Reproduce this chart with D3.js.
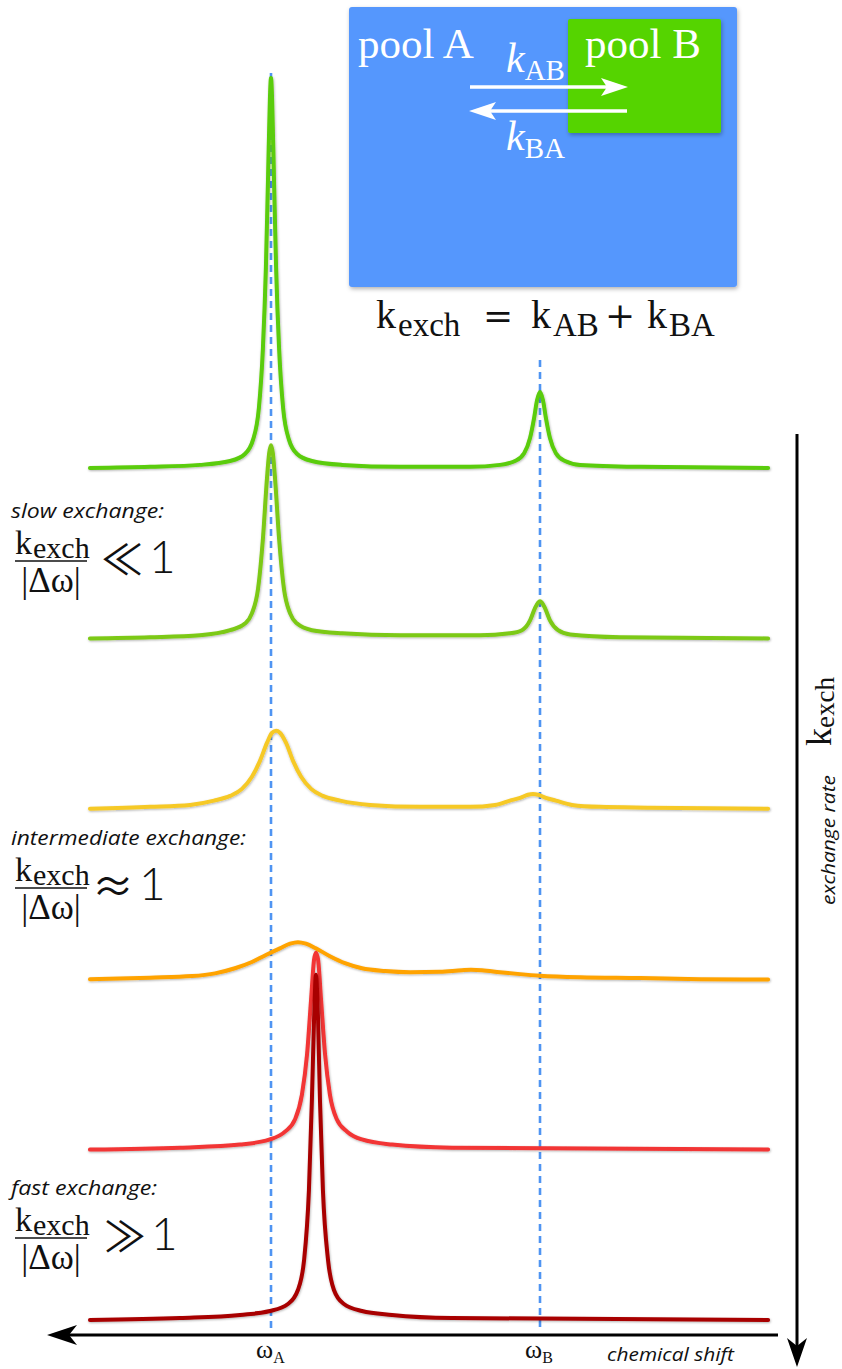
<!DOCTYPE html>
<html>
<head>
<meta charset="utf-8">
<script src="https://cdn.jsdelivr.net/npm/d3@7"></script>
<style>
  body { margin: 0; background: #fff; }
  svg { display: block; }
  .serif { font-family: "Liberation Serif", "DejaVu Serif", serif; }
  .note { font-family: "Open Sans", "DejaVu Sans", sans-serif; font-style: italic; }
</style>
</head>
<body>
<div class="container"></div>
<script>
const width = 842,
    height = 1369;

// chemical shift in units where omega_A = 0 and omega_B = 100,
// intensity in % of the tallest line
const shiftA = 0,
    shiftB = 100;

const traceIds = ["slowest", "slow", "slowInter", "inter", "fast", "fastest"];

const traceSlowest = [
  [-67.3, 0], [-45.0, 0.3], [-26.4, 0.8], [-15.2, 1.8], [-9.7, 3.6], [-6.7, 7.2],
  [-4.5, 15.4], [-3.0, 30.8], [-1.9, 51.3], [-1.1, 74.4], [-0.4, 94.9], [0, 100],
  [0.4, 94.9], [1.1, 74.4], [1.9, 51.3], [3.0, 30.8], [4.5, 15.4], [6.7, 7.2],
  [9.7, 3.6], [15.2, 1.8], [26.4, 0.8], [48.0, 0.3], [74.0, 0.3], [85.1, 0.8],
  [90.7, 1.8], [94.1, 3.8], [96.3, 7.7], [97.8, 12.8], [98.9, 17.4], [100, 19.5],
  [101.1, 17.4], [102.2, 12.8], [103.7, 7.7], [105.9, 3.8], [109.3, 1.8],
  [114.9, 0.8], [137.2, 0.3], [184.8, 0]
];

const traceSlow = [
  [-67.3, 0], [-45.0, 0.3], [-26.4, 0.8], [-15.2, 2.1], [-9.7, 3.8], [-7.1, 6.4],
  [-4.8, 12.8], [-3.0, 25.6], [-1.5, 41.0], [-0.7, 47.4], [0, 49.5], [0.7, 47.4],
  [1.5, 41.0], [3.0, 25.6], [4.8, 12.8], [7.1, 6.4], [9.7, 3.8], [15.2, 2.1],
  [26.4, 1.3], [48.0, 0.8], [77.7, 0.8], [88.8, 1.3], [93.3, 2.1], [96.3, 4.6],
  [98.1, 7.7], [99.3, 9.2], [100, 9.5], [100.7, 9.2], [101.9, 7.7], [103.7, 4.6],
  [106.7, 2.1], [111.2, 1.0], [129.7, 0.3], [184.8, 0]
];

const traceSlowInter = [
  [-67.3, 0], [-45.0, 0.5], [-30.1, 1.0], [-21.2, 2.1], [-15.2, 3.3], [-10.8, 5.1],
  [-7.1, 8.2], [-4.1, 12.3], [-1.5, 16.9], [0.4, 19.5], [1.9, 20.0], [3.3, 19.5],
  [5.6, 16.9], [8.2, 12.3], [11.2, 8.2], [14.9, 5.1], [19.3, 3.3], [25.7, 2.1],
  [36.8, 1.0], [55.4, 0.5], [74.0, 0.5], [83.3, 1.0], [88.8, 2.1], [92.6, 2.8],
  [95.5, 3.6], [97.4, 3.8], [99.3, 3.6], [102.2, 2.8], [105.9, 2.1], [111.9, 1.0],
  [122.3, 0.5], [140.9, 0.3], [184.8, 0]
];

const traceInter = [
  [-67.3, 0], [-45.0, 0.4], [-29.4, 0.8], [-20.8, 1.5], [-13.4, 2.8], [-7.1, 4.4],
  [-1.9, 6.2], [3.3, 7.9], [7.1, 9.1], [10.0, 9.5], [13.0, 9.1], [16.7, 7.9],
  [21.9, 5.9], [27.5, 4.1], [33.8, 2.8], [42.4, 2.1], [51.7, 1.8], [62.8, 1.9],
  [71.0, 2.3], [74.3, 2.4], [78.4, 2.3], [85.1, 1.8], [92.6, 1.3], [100, 0.9],
  [114.9, 0.5], [137.2, 0.3], [159.5, 0], [184.8, -0.1]
];

const traceFast = [
  [-67.3, 0], [-33.8, 0.5], [-11.5, 1.3], [-0.4, 2.6], [5.2, 4.6], [8.9, 7.7],
  [11.5, 14.1], [13.4, 24.4], [14.9, 38.5], [16.0, 48.7], [16.7, 50.5], [17.5, 48.7],
  [18.6, 38.5], [20.1, 24.4], [21.9, 14.1], [24.5, 7.7], [28.3, 4.6], [33.8, 2.6],
  [45.0, 1.3], [67.3, 0.5], [184.8, 0]
];

const traceFastest = [
  [-67.3, 0], [-33.8, 0.5], [-11.5, 1.3], [-0.4, 2.3], [6.3, 4.1], [10.0, 7.7],
  [12.3, 15.4], [14.1, 33.3], [15.2, 56.4], [16.0, 76.9], [16.7, 88.5], [17.5, 76.9],
  [18.2, 56.4], [19.3, 33.3], [21.2, 15.4], [23.4, 7.7], [27.1, 4.1], [33.8, 2.3],
  [45.0, 1.3], [67.3, 0.5], [184.8, 0]
];

const traces = [traceSlowest, traceSlow, traceSlowInter, traceInter, traceFast, traceFastest];

const regimeLabels = ["slow exchange:", "intermediate exchange:", "fast exchange:"];
const regimeRelations = ["\u226A", "\u2248", "\u226B"];

const traceColors = ["#5acc08", "#7cc914", "#f6c928", "#ffa300", "#f23434", "#a80000"];
const guideColor = "#4f94f2";

let svg;

const createCanvas = () => {
  return d3.select(".container")
    .append("svg")
    .attr("width", width)
    .attr("height", height);
};

const createFilters = () => {
  const defs = svg.append("defs");
  defs.append("filter")
      .attr("id", "lineShadow")
      .attr("x", "-5%").attr("y", "-5%").attr("width", "110%").attr("height", "120%")
    .append("feDropShadow")
      .attr("dx", 0.6).attr("dy", 1).attr("stdDeviation", 0.8)
      .attr("flood-color", "#000").attr("flood-opacity", 0.3);
  defs.append("filter")
      .attr("id", "boxShadow")
      .attr("x", "-5%").attr("y", "-5%").attr("width", "110%").attr("height", "115%")
    .append("feDropShadow")
      .attr("dx", 1).attr("dy", 2).attr("stdDeviation", 2)
      .attr("flood-color", "#000").attr("flood-opacity", 0.3);
};

const defineScales = () => {
  const xScale = d3.scaleLinear()
                   .domain([shiftA, shiftB])
                   .range([271, 540]);
  // intensity -> upward offset from each trace's baseline
  const yScale = d3.scaleLinear()
                   .domain([0, 100])
                   .range([0, -390]);
  const offset = d3.scalePoint()
                   .domain(traceIds)
                   .range([468, 1320]);
  return { xScale, yScale, offset };
};

const createPoolBox = () => {
  const g = svg.append("g");
  g.append("rect")
   .attr("x", 349).attr("y", 7).attr("width", 388).attr("height", 280)
   .attr("rx", 3).attr("fill", "#5597fd")
   .attr("filter", "url(#boxShadow)");
  g.append("rect")
   .attr("x", 568).attr("y", 19).attr("width", 153).attr("height", 114)
   .attr("rx", 2).attr("fill", "#55d400")
   .attr("filter", "url(#boxShadow)");

  g.append("text").attr("class", "serif")
   .attr("x", 358).attr("y", 58).attr("fill", "#fff").attr("font-size", 43)
   .text("pool A");
  g.append("text").attr("class", "serif")
   .attr("x", 585).attr("y", 58).attr("fill", "#fff").attr("font-size", 43)
   .text("pool B");

  const rate = (y, sub) => {
    const t = g.append("text").attr("class", "serif").attr("fill", "#fff")
               .attr("x", 506).attr("y", y);
    t.append("tspan").attr("font-size", 42).attr("font-style", "italic").text("k");
    t.append("tspan").attr("font-size", 29).attr("dy", 8).text(sub);
  };
  rate(72, "AB");
  rate(150, "BA");

  // exchange arrows
  g.append("line").attr("x1", 470).attr("x2", 612).attr("y1", 87).attr("y2", 87)
   .attr("stroke", "#fff").attr("stroke-width", 3.5);
  g.append("path").attr("d", "M628,87 L601,78 L607,87 L601,96 Z").attr("fill", "#fff");
  g.append("line").attr("x1", 485).attr("x2", 627).attr("y1", 111).attr("y2", 111)
   .attr("stroke", "#fff").attr("stroke-width", 3.5);
  g.append("path").attr("d", "M469,111 L496,102 L490,111 L496,120 Z").attr("fill", "#fff");

  // k_exch = k_AB + k_BA
  const f = svg.append("text").attr("class", "serif").attr("y", 328).attr("fill", "#111");
  f.append("tspan").attr("x", 376).attr("font-size", 40).text("k");
  f.append("tspan").attr("x", 398).attr("dy", 8).attr("font-size", 33).text("exch");
  f.append("tspan").attr("x", 483).attr("dy", -8).attr("font-size", 36)
   .style("font-family", "'DejaVu Serif', serif").text("=");
  f.append("tspan").attr("x", 531).attr("font-size", 40).text("k");
  f.append("tspan").attr("x", 553).attr("dy", 8).attr("font-size", 33).text("AB");
  f.append("tspan").attr("x", 605).attr("dy", -8).attr("font-size", 36)
   .style("font-family", "'DejaVu Serif', serif").text("+");
  f.append("tspan").attr("x", 647).attr("font-size", 40).text("k");
  f.append("tspan").attr("x", 669).attr("dy", 8).attr("font-size", 33).text("BA");
};

const createGuides = (scales) => {
  const tops = [73, 360];
  svg.selectAll(".guide")
     .data([shiftA, shiftB])
     .enter()
     .append("line")
     .attr("class", "guide")
     .attr("x1", d => scales.xScale(d))
     .attr("x2", d => scales.xScale(d))
     .attr("y1", (d, i) => tops[i])
     .attr("y2", 1330)
     .attr("stroke", guideColor)
     .attr("stroke-width", 2.6)
     .attr("stroke-dasharray", "7,5");
};

const createTraces = (scales) => {
  const line = d3.line()
                 .x(d => scales.xScale(d[0]))
                 .y(d => scales.yScale(d[1]))
                 .curve(d3.curveMonotoneX);

  svg.selectAll(".trace")
     .data(traces)
     .enter()
     .append("path")
     .attr("class", "trace")
     .attr("transform", (d, i) => `translate(0, ${scales.offset(traceIds[i])})`)
     .attr("d", line)
     .attr("fill", "none")
     .attr("stroke", (d, i) => traceColors[i])
     .attr("stroke-width", 4)
     .attr("stroke-linejoin", "round")
     .attr("stroke-linecap", "round")
     .attr("filter", "url(#lineShadow)");
};

const createRegimes = () => {
  const tops = [518, 845, 1195];
  const labelLengths = [153, 235, 146];
  const relX = [101, 92, 104];
  const oneX = [149, 139, 151];
  regimeLabels.forEach((label, i) => {
    const y = tops[i];
    const g = svg.append("g");
    g.append("text").attr("class", "note")
     .attr("x", 11).attr("y", y).attr("font-size", 20).attr("fill", "#111")
     .attr("textLength", labelLengths[i]).attr("lengthAdjust", "spacingAndGlyphs")
     .text(label);

    const bar = y + 43;
    const num = g.append("text").attr("class", "serif").attr("y", bar - 7).attr("fill", "#111");
    num.append("tspan").attr("x", 15).attr("font-size", 34).text("k");
    num.append("tspan").attr("x", 33).attr("dy", 4).attr("font-size", 30).text("exch");
    g.append("line").attr("x1", 15).attr("x2", 87).attr("y1", bar).attr("y2", bar)
     .attr("stroke", "#111").attr("stroke-width", 1.6);
    g.append("text").attr("class", "serif")
     .attr("x", 51).attr("y", bar + 31).attr("text-anchor", "middle")
     .attr("font-size", 35).attr("fill", "#111")
     .text("|\u0394\u03C9|");

    const rel = g.append("text").attr("y", bar + 14).attr("fill", "#111");
    rel.append("tspan").attr("x", relX[i])
       .style("font-family", "'Noto Sans CJK JP', 'DejaVu Sans', sans-serif")
       .attr("font-size", 42)
       .text(regimeRelations[i]);
    rel.append("tspan").attr("x", oneX[i]).attr("dy", -2)
       .style("font-family", "Lato, 'Noto Sans', sans-serif").style("font-weight", 300)
       .attr("font-size", 46)
       .text("1");
  });
};

const createAxes = (scales) => {
  // chemical shift axis, pointing left
  svg.append("line").attr("x1", 66).attr("x2", 778).attr("y1", 1335).attr("y2", 1335)
     .attr("stroke", "#000").attr("stroke-width", 3);
  svg.append("path").attr("d", "M47,1335 L77,1325 L69,1335 L77,1345 Z").attr("fill", "#000");

  const labels = svg.selectAll(".omega")
     .data([["A", shiftA], ["B", shiftB]])
     .enter()
     .append("text")
     .attr("class", "serif omega")
     .attr("x", d => scales.xScale(d[1]) - 15)
     .attr("y", 1358)
     .attr("fill", "#111")
     .attr("font-size", 26);
  labels.append("tspan").text("\u03C9");
  labels.append("tspan").attr("dy", 5).attr("font-size", 16).text(d => d[0]);

  svg.append("text").attr("class", "note")
     .attr("x", 607).attr("y", 1361).attr("font-size", 18).attr("fill", "#111")
     .attr("textLength", 127).attr("lengthAdjust", "spacingAndGlyphs")
     .text("chemical shift");

  // exchange rate axis, pointing down
  svg.append("line").attr("x1", 797).attr("x2", 797).attr("y1", 434).attr("y2", 1350)
     .attr("stroke", "#000").attr("stroke-width", 3);
  svg.append("path").attr("d", "M797,1367 L787,1338 L797,1346 L807,1338 Z").attr("fill", "#000");

  const k = svg.append("text").attr("class", "serif")
     .attr("transform", "translate(831, 746) rotate(-90)").attr("fill", "#111");
  k.append("tspan").attr("font-size", 36).text("k");
  k.append("tspan").attr("dy", 3).attr("font-size", 27).text("exch");

  svg.append("text").attr("class", "note")
     .attr("transform", "translate(835, 840) rotate(-90)")
     .attr("text-anchor", "middle").attr("font-size", 18).attr("fill", "#111")
     .attr("textLength", 130).attr("lengthAdjust", "spacingAndGlyphs")
     .text("exchange rate");
};

const drawExchangeChart = () => {
  svg = createCanvas();
  createFilters();
  const scales = defineScales();
  createPoolBox();
  createGuides(scales);
  createTraces(scales);
  createRegimes();
  createAxes(scales);
};

drawExchangeChart();
</script>
</body>
</html>
